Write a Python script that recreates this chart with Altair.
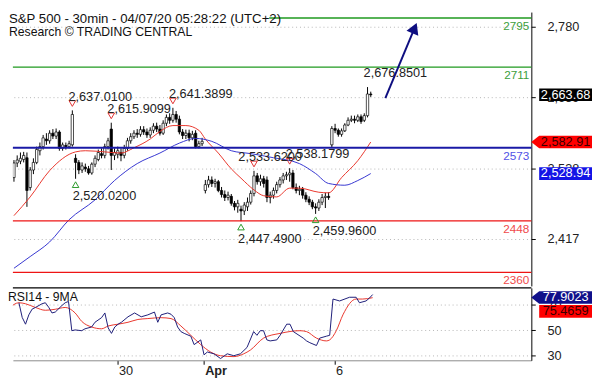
import altair as alt
import pandas as pd

# ---------------- data ----------------
opens = [2522, 2547, 2550, 2553, 2556, 2505, 2535, 2548, 2568, 2575,
         2588, 2585, 2598, 2593, 2600, 2572, 2577, 2575, 2578, 2555,
         2548, 2535, 2540, 2537, 2530, 2545, 2553, 2563, 2560, 2575,
         2605, 2560, 2562, 2565, 2560, 2572, 2585, 2592, 2598, 2596,
         2604, 2600, 2595, 2603, 2610, 2605, 2598, 2615, 2625, 2620,
         2630, 2622, 2600, 2594, 2598, 2590, 2598, 2575, 2580, 2500,
         2510, 2518, 2512, 2515, 2500, 2493, 2488, 2490, 2478, 2472,
         2468, 2465, 2472, 2480, 2495, 2525, 2515, 2520, 2518, 2488,
         2492, 2500, 2510, 2518, 2525, 2527, 2530, 2505, 2500, 2502,
         2492, 2485, 2480, 2472, 2470, 2480, 2488, 2490, 2578, 2606,
         2603, 2596, 2602, 2612, 2620, 2622, 2620, 2626, 2620, 2628, 2665]
highs = [2552, 2560, 2565, 2566, 2565, 2540, 2555, 2575, 2582, 2595,
         2598, 2603, 2605, 2606, 2603, 2582, 2582, 2585, 2637.01, 2562,
         2552, 2548, 2546, 2542, 2548, 2560, 2570, 2572, 2580, 2590,
         2615.91, 2572, 2575, 2572, 2578, 2590, 2598, 2603, 2605, 2610,
         2610, 2606, 2608, 2615, 2616, 2612, 2620, 2630, 2632, 2641.39,
         2636, 2628, 2605, 2604, 2604, 2602, 2603, 2585, 2590, 2518,
         2525, 2524, 2520, 2518, 2506, 2500, 2498, 2494, 2482, 2484,
         2474, 2480, 2488, 2500, 2533.62, 2530, 2527, 2525, 2524, 2498,
         2505, 2515, 2523, 2530, 2532, 2538.18, 2535, 2512, 2508, 2506,
         2497, 2490, 2484, 2478, 2485, 2494, 2496, 2497, 2610, 2614,
         2606, 2606, 2615, 2625, 2628, 2628, 2630, 2630, 2632, 2676.85, 2669]
lows = [2515, 2540, 2545, 2548, 2472, 2500, 2528, 2545, 2560, 2570,
        2578, 2580, 2588, 2588, 2568, 2568, 2570, 2572, 2575, 2520.02,
        2528, 2530, 2532, 2527, 2527, 2540, 2550, 2555, 2555, 2570,
        2535, 2552, 2555, 2550, 2555, 2568, 2580, 2588, 2590, 2592,
        2595, 2590, 2590, 2598, 2600, 2594, 2595, 2610, 2614, 2616,
        2616, 2596, 2588, 2588, 2584, 2586, 2572, 2572, 2576, 2495,
        2505, 2506, 2505, 2497, 2488, 2482, 2483, 2474, 2466, 2462,
        2447.49, 2458, 2465, 2476, 2490, 2510, 2508, 2505, 2480, 2478,
        2486, 2495, 2505, 2512, 2518, 2515, 2502, 2495, 2492, 2486,
        2480, 2475, 2468, 2459.96, 2465, 2475, 2470, 2484, 2574, 2598,
        2592, 2592, 2600, 2610, 2617, 2615, 2617, 2614, 2617, 2625, 2660]
closes = [2547, 2552, 2555, 2560, 2500, 2535, 2548, 2570, 2575, 2590,
          2585, 2598, 2593, 2600, 2572, 2578, 2575, 2580, 2630, 2548,
          2535, 2542, 2537, 2530, 2545, 2555, 2565, 2560, 2575, 2585,
          2560, 2565, 2568, 2560, 2572, 2585, 2592, 2598, 2596, 2604,
          2600, 2595, 2603, 2610, 2605, 2598, 2615, 2625, 2620, 2630,
          2622, 2600, 2594, 2598, 2590, 2596, 2575, 2580, 2584, 2510,
          2518, 2512, 2515, 2500, 2493, 2488, 2492, 2478, 2472, 2478,
          2465, 2475, 2480, 2495, 2525, 2515, 2520, 2512, 2488, 2492,
          2500, 2510, 2518, 2525, 2527, 2530, 2505, 2500, 2502, 2492,
          2485, 2480, 2472, 2470, 2480, 2488, 2490, 2488, 2606, 2603,
          2596, 2602, 2612, 2620, 2622, 2620, 2626, 2618, 2628, 2665, 2663.68]

ma_red_idx = [0, 5, 11, 19, 22, 28, 33, 37, 42, 45, 49, 53, 57, 59, 63, 67, 70,
              74, 77, 81, 85, 88, 94, 97, 101, 106, 110]
ma_red_val = [2457, 2489, 2534, 2566, 2568, 2566, 2564, 2573, 2588, 2601, 2611,
              2611, 2603, 2588, 2564, 2537, 2521, 2501, 2491, 2489, 2504, 2504,
              2497, 2496, 2522, 2551, 2582.91]
ma_blue_idx = [0, 5, 11, 17, 25, 31, 38, 45, 51, 56, 61, 67, 73, 80, 88, 93, 97,
               102, 106, 110]
ma_blue_val = [2367, 2387, 2412, 2450, 2484, 2517, 2546, 2564, 2581, 2589, 2584,
               2568, 2563, 2556, 2546, 2529, 2512, 2509, 2517, 2528.94]

rsi_idx = [3, 4, 5, 6, 7, 8, 10, 11, 12, 13, 14, 16, 17, 18, 19, 20, 22, 23, 25,
           26, 28, 29, 30, 31, 32, 33, 34, 36, 38, 40, 42, 44, 45, 46, 48, 49,
           50, 51, 52, 53, 55, 56, 58, 59, 60, 62, 64, 66, 68, 70, 72, 74, 75,
           76, 77, 78, 79, 81, 82, 84, 85, 86, 89, 90, 91, 93, 94, 96, 97, 98,
           100, 103, 105, 106, 108, 109, 110]
rsi_val = [71.5, 60.0, 54.7, 62.0, 66.5, 67.8, 70.7, 71.5, 68.0, 63.5, 64.2,
           69.3, 71.5, 72.5, 49.6, 50.2, 49.6, 51.1, 52.5, 56.2, 59.8, 63.5,
           51.8, 47.5, 52.5, 54.7, 56.2, 60.5, 63.5, 60.5, 62.0, 64.2, 56.2,
           62.0, 63.5, 62.5, 59.8, 52.5, 48.9, 47.5, 45.3, 38.7, 42.4, 30.7,
           32.9, 31.5, 27.8, 31.5, 30.0, 31.5, 36.5, 48.9, 46.0, 49.6, 49.6,
           42.4, 41.6, 42.4, 46.0, 54.7, 54.7, 48.9, 43.8, 41.6, 40.2, 38.0,
           43.8, 45.3, 46.0, 74.4, 72.9, 75.8, 75.8, 71.5, 72.9, 75.1, 77.9023]
rsi_ma_idx = [0, 3, 5, 8, 11, 14, 17, 20, 22, 25, 28, 30, 33, 36, 39, 42, 46,
              49, 52, 55, 58, 61, 64, 68, 71, 73, 77, 82, 88, 90, 93, 96, 97,
              99, 101, 105, 107, 110]
rsi_ma_val = [67.1, 71.5, 70.7, 67.8, 65.6, 66.4, 67.8, 63.5, 56.9, 52.5, 51.1,
              53.3, 54.7, 56.2, 58.4, 59.1, 59.8, 59.1, 53.3, 46.0, 38.7, 32.9,
              30.0, 29.3, 31.5, 34.4, 43.8, 47.5, 49.6, 48.9, 43.8, 41.6, 42.4,
              49.6, 62.0, 74.4, 74.4, 75.4659]

level_values = [2795, 2711, 2573, 2448, 2360]
level_labels = ["2795", "2711", "2573", "2448", "2360"]
level_colors = ["#1f9a1f", "#1f9a1f", "#1a1aa6", "#ee1414", "#ee1414"]
level_text_colors = ["#3c9e3c", "#3c9e3c", "#5252e6", "#f04a4a", "#f04a4a"]

peak_idx = [18, 30, 49, 74, 85, 109]
peak_val = [2637.01, 2615.9099, 2641.3899, 2533.62, 2538.1799, 2676.8501]
trough_idx = [19, 70, 93]
trough_val = [2520.02, 2447.49, 2459.96]

price_ticks = [2417, 2538, 2659, 2780]
rsi_ticks = [30, 50, 70]
day_ticks = [32.8, 58.9, 98.5]
day_labels = ["30", "Apr", "6"]

arrow_idx = [114.5, 123.5]
arrow_val = [2658, 2777.7]

last_close = 2663.68
last_ma_red = 2582.91
last_ma_blue = 2528.94
last_rsi = 77.9023
last_rsi_ma = 75.4659

header_line1 = "S&P 500 - 30min - 04/07/20 05:28:22 (UTC+2)"
header_line2 = "Research \u00a9 TRADING CENTRAL"

# ---------------- layout / style ----------------
W = 530
H1 = 280
H2 = 74
FONT = "Liberation Sans"
TXT = "#222222"
TAG_X = W + 35

RECT = "M-1,-0.24L1,-0.24L1,0.24L-1,0.24Z"
ARROWTAG = "M-1.3,0L-1,-0.24L1,-0.24L1,0.24L-1,0.24Z"
TAG_SIZE = 2916

xscale = alt.Scale(domain=[1.18, 158], nice=False, zero=False)
yscale = alt.Scale(domain=[2336.7, 2805.1], nice=False, zero=False)
rscale = alt.Scale(domain=[26.4, 83.1], nice=False, zero=False)

yaxis = alt.Axis(orient="right", values=price_ticks, format=",.0f", tickSize=4,
                 tickColor="black", domainColor="black", labelPadding=12,
                 labelFontSize=13, labelColor=TXT, labelFont=FONT, grid=True,
                 gridDash=[1, 3], gridColor="#b5b5b5", title=None)
raxis = alt.Axis(orient="right", values=rsi_ticks, format="d", tickSize=4,
                 tickColor="black", domainColor="black", labelPadding=12,
                 labelFontSize=13, labelColor=TXT, labelFont=FONT, grid=True,
                 gridDash=[1, 3], gridColor="#b5b5b5", title=None)
mid1 = (day_ticks[0] + day_ticks[1]) / 2
mid2 = (day_ticks[1] + day_ticks[2]) / 2
label_expr = (f"datum.value < {mid1} ? '{day_labels[0]}' : "
              f"(datum.value < {mid2} ? '{day_labels[1]}' : '{day_labels[2]}')")
xaxis_rsi = alt.Axis(values=day_ticks, labelExpr=label_expr, labelAlign="left",
                     labelPadding=1, labelOffset=1, tickSize=4, tickColor="black",
                     domainColor="#8a8a8a", labelFontSize=13, labelColor=TXT,
                     labelFont=FONT, grid=False, title=None,
                     labelFontWeight={"condition": {"test": f"datum.value > {mid1} && datum.value < {mid2}",
                                                    "value": "bold"}, "value": "normal"})


def MX(f):
    return alt.X(f, type="quantitative", scale=xscale, axis=None)


def MY(f):
    return alt.Y(f, type="quantitative", scale=yscale, axis=yaxis)


def RX(f):
    return alt.X(f, type="quantitative", scale=xscale, axis=xaxis_rsi)


def RY(f):
    return alt.Y(f, type="quantitative", scale=rscale, axis=raxis)


bars = pd.DataFrame({"i": list(range(len(opens))), "open": opens, "high": highs,
                     "low": lows, "close": closes})
red_df = pd.DataFrame({"i": ma_red_idx, "v": ma_red_val})
blue_df = pd.DataFrame({"i": ma_blue_idx, "v": ma_blue_val})
levels = pd.DataFrame({"value": level_values, "label": level_labels,
                       "color": level_colors, "tcolor": level_text_colors})
peaks = pd.DataFrame({"i": peak_idx, "v": peak_val,
                      "label": [f"{v:,.4f}" for v in peak_val]})
troughs = pd.DataFrame({"i": trough_idx, "v": trough_val,
                        "label": [f"{v:,.4f}" for v in trough_val]})
arrow = pd.DataFrame({"i": arrow_idx, "v": arrow_val})
tags = pd.DataFrame({"v": [last_close, last_ma_red, last_ma_blue],
                     "t": [f"{last_close:,.2f}", f"{last_ma_red:,.2f}", f"{last_ma_blue:,.2f}"],
                     "fill": ["#000000", "#ff0000", "#1414e6"],
                     "tc": ["#ffffff", "#3a0000", "#ffffff"],
                     "shape": [RECT, ARROWTAG, RECT]})
header1 = pd.DataFrame({"t": [header_line1]})
header2 = pd.DataFrame({"t": [header_line2]})

# ---------------- main panel ----------------
wicks = alt.Chart(bars).mark_rule(color="black", strokeWidth=1, clip=True).encode(
    x=MX("i"), y=MY("low"), y2=alt.Y2("high"))
bodies = alt.Chart(bars).mark_bar(size=2.4, stroke="black", strokeWidth=0.7, clip=True).encode(
    x=MX("i"), y=MY("open"), y2=alt.Y2("close"),
    fill=alt.condition("datum.close >= datum.open", alt.value("white"), alt.value("black")))
red_line = alt.Chart(red_df).mark_line(color="#e8352b", strokeWidth=1, interpolate="monotone", clip=True).encode(
    x=MX("i"), y=MY("v"))
blue_line = alt.Chart(blue_df).mark_line(color="#3434d0", strokeWidth=1, interpolate="monotone", clip=True).encode(
    x=MX("i"), y=MY("v"))
level_rules = alt.Chart(levels).transform_filter(f"datum.value != {level_values[0]}").mark_rule().encode(
    y=MY("value"), color=alt.Color("color:N", scale=None),
    strokeWidth=alt.condition(f"datum.value == {level_values[2]}", alt.value(2.2), alt.value(1.4)))
top_rule = alt.Chart(levels).transform_filter(f"datum.value == {level_values[0]}").mark_rule(strokeWidth=1.4).encode(
    y=MY("value"), x=alt.value(262), x2=alt.value(W), color=alt.Color("color:N", scale=None))
level_text = alt.Chart(levels).mark_text(align="right", baseline="top", dy=3, fontSize=12, font=FONT).encode(
    x=alt.value(W - 2), y=MY("value"), text="label:N", color=alt.Color("tcolor:N", scale=None))

peak_tri = alt.Chart(peaks).transform_filter(f"datum.i != {peak_idx[-1]}").mark_point(
    shape="triangle-down", filled=False, size=45, strokeWidth=1, color="#e03030",
    yOffset=-7, opacity=1).encode(x=MX("i"), y=MY("v"))
trough_tri = alt.Chart(troughs).mark_point(
    shape="triangle-up", filled=False, size=45, strokeWidth=1, color="#2a9a2a",
    yOffset=6, opacity=1).encode(x=MX("i"), y=MY("v"))

ann_layers = []
for k in range(len(peak_idx)):
    dxk = -16 if k == 3 else -4
    ann_layers.append(alt.Chart(peaks.iloc[[k]]).mark_text(
        align="left", baseline="middle", dx=dxk, dy=-14, fontSize=13, font=FONT, color=TXT
    ).encode(x=MX("i"), y=MY("v"), text="label:N"))
for k in range(len(trough_idx)):
    ann_layers.append(alt.Chart(troughs.iloc[[k]]).mark_text(
        align="left", baseline="middle", dx=-3, dy=18, fontSize=13, font=FONT, color=TXT
    ).encode(x=MX("i"), y=MY("v"), text="label:N"))

arrow_line = alt.Chart(arrow).mark_line(color="#0e0e80", strokeWidth=2).encode(x=MX("i"), y=MY("v"))
arrow_head = alt.Chart(arrow.iloc[[1]]).mark_point(
    shape="triangle-up", filled=True, size=170, angle=23, color="#0e0e80", opacity=1
).encode(x=MX("i"), y=MY("v"))

head_text1 = alt.Chart(header1).mark_text(
    align="left", baseline="top", fontSize=13.5, font=FONT, color="#111111").encode(
    x=alt.value(-4), y=alt.value(0), text="t:N")
head_text2 = alt.Chart(header2).mark_text(
    align="left", baseline="top", fontSize=12.5, font=FONT, color="#111111").encode(
    x=alt.value(-4), y=alt.value(14), text="t:N")

tag_shapes = alt.Chart(tags).mark_point(filled=True, size=TAG_SIZE, opacity=1, strokeWidth=0).encode(
    x=alt.value(TAG_X), y=MY("v"), fill=alt.Fill("fill:N", scale=None),
    shape=alt.Shape("shape:N", scale=None))
tag_text = alt.Chart(tags).mark_text(fontSize=13, font=FONT, align="center", baseline="middle").encode(
    x=alt.value(TAG_X), y=MY("v"), text="t:N", color=alt.Color("tc:N", scale=None))

main = alt.layer(wicks, bodies, red_line, blue_line, level_rules, top_rule, level_text,
                 peak_tri, trough_tri, *ann_layers, arrow_line, arrow_head, head_text1,
                 head_text2, tag_shapes, tag_text).properties(width=W, height=H1)

# ---------------- RSI panel ----------------
rsi_df = pd.DataFrame({"i": rsi_idx, "v": rsi_val})
rsi_ma_df = pd.DataFrame({"i": rsi_ma_idx, "v": rsi_ma_val})
rtags = pd.DataFrame({"v": [last_rsi], "t": [f"{last_rsi:.4f}"]})
rtags2 = pd.DataFrame({"v": [last_rsi_ma], "t": [f"{last_rsi_ma:.4f}"]})
one = pd.DataFrame({"t": ["RSI14 - 9MA"]})

rsi_ma_line = alt.Chart(rsi_ma_df).mark_line(color="#e8352b", strokeWidth=1, interpolate="monotone", clip=True).encode(
    x=RX("i"), y=RY("v"))
rsi_line = alt.Chart(rsi_df).mark_line(color="#1c1c78", strokeWidth=1, clip=True).encode(
    x=RX("i"), y=RY("v"))
sep = alt.Chart(one).mark_rule(color="black", strokeWidth=1.2).encode(y=alt.value(0))
rsi_label = alt.Chart(one).mark_text(align="left", baseline="top", fontSize=12.5, font=FONT, color="#111111").encode(
    x=alt.value(-5), y=alt.value(3), text="t:N")
rtag1 = alt.Chart(rtags).mark_point(filled=True, size=TAG_SIZE, opacity=1, strokeWidth=0,
                                    shape=ARROWTAG, color="#10108a", yOffset=3).encode(
    x=alt.value(TAG_X), y=RY("v"))
rtag1t = alt.Chart(rtags).mark_text(fontSize=13, font=FONT, color="white", dy=3).encode(
    x=alt.value(TAG_X), y=RY("v"), text="t:N")
rtag2 = alt.Chart(rtags2).mark_point(filled=True, size=TAG_SIZE, opacity=1, strokeWidth=0,
                                     shape=RECT, color="#ff0000", yOffset=14).encode(
    x=alt.value(TAG_X), y=RY("v"))
rtag2t = alt.Chart(rtags2).mark_text(fontSize=13, font=FONT, color="#3a0000", dy=14).encode(
    x=alt.value(TAG_X), y=RY("v"), text="t:N")

rsi = alt.layer(rsi_ma_line, rsi_line, sep, rsi_label, rtag1, rtag1t, rtag2, rtag2t).properties(
    width=W, height=H2)

chart = alt.vconcat(main, rsi, spacing=0).properties(
    padding={"left": 0, "top": 0, "right": 0, "bottom": 0},
    background="white"
).configure(font=FONT).configure_view(strokeWidth=0)

chart.save("out.html", embed_options={"renderer": "svg", "actions": False})
